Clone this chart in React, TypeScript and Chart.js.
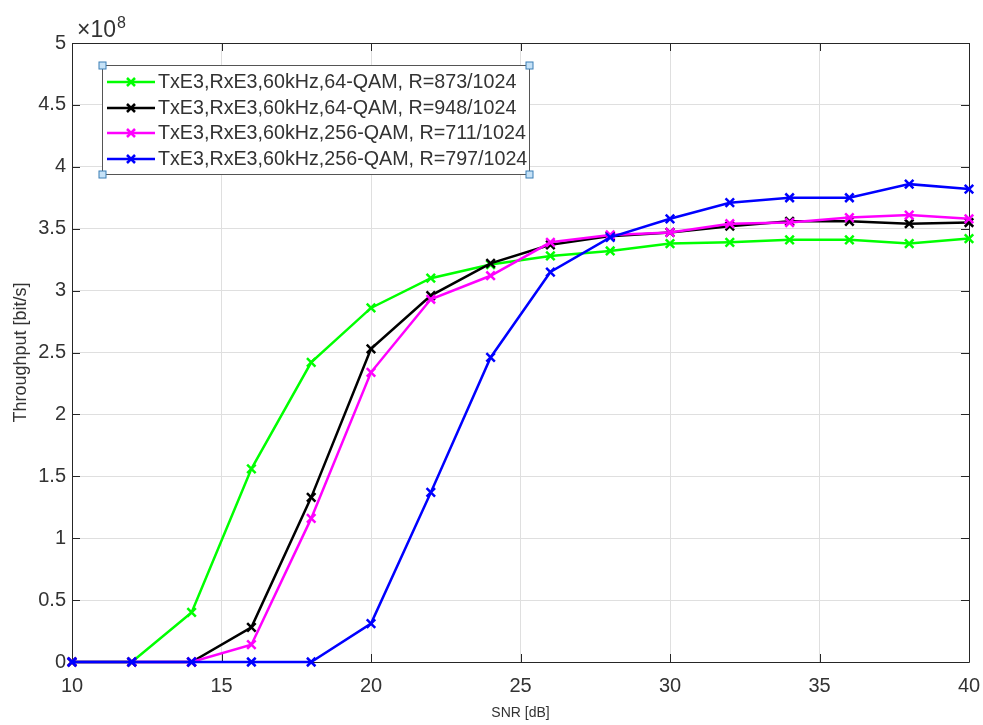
import React, { useEffect, useRef } from "react";
import { Chart, registerables } from "chart.js";

Chart.register(...registerables);

// ---- data (throughput in units of 1e8 bit/s) ----
const snrDb = [10, 12, 14, 16, 18, 20, 22, 24, 26, 28, 30, 32, 34, 36, 38, 40];
const qam64R873 = [0, 0, 0.40, 1.56, 2.42, 2.86, 3.10, 3.21, 3.28, 3.32, 3.38, 3.39, 3.41, 3.41, 3.38, 3.42];
const qam64R948 = [0, 0, 0, 0.28, 1.33, 2.53, 2.96, 3.22, 3.37, 3.44, 3.47, 3.52, 3.56, 3.56, 3.54, 3.55];
const qam256R711 = [0, 0, 0, 0.14, 1.16, 2.34, 2.93, 3.12, 3.39, 3.45, 3.47, 3.54, 3.55, 3.59, 3.61, 3.58];
const qam256R797 = [0, 0, 0, 0, 0, 0.31, 1.37, 2.46, 3.15, 3.43, 3.58, 3.71, 3.75, 3.75, 3.86, 3.82];

const seriesLabels = [
  "TxE3,RxE3,60kHz,64-QAM, R=873/1024",
  "TxE3,RxE3,60kHz,64-QAM, R=948/1024",
  "TxE3,RxE3,60kHz,256-QAM, R=711/1024",
  "TxE3,RxE3,60kHz,256-QAM, R=797/1024",
];
const seriesColors = ["#00ff00", "#000000", "#ff00ff", "#0000ff"];

const xTicks = [10, 15, 20, 25, 30, 35, 40];
const yTicks = [0, 0.5, 1, 1.5, 2, 2.5, 3, 3.5, 4, 4.5, 5];
const yExponent = "8";
const xTitle = "SNR [dB]";
const yTitle = "Throughput [bit/s]";

const FONT = "'Liberation Sans', Arial, Helvetica, sans-serif";
const TEXT = "#333333";

const framePlugin = {
  id: "matlabFrame",
  beforeDatasetsDraw(chart: any) {
    const { ctx, chartArea: a, scales } = chart;
    const tl = 8;
    ctx.save();
    ctx.strokeStyle = "#262626";
    ctx.lineWidth = 1;
    ctx.beginPath();
    ctx.rect(Math.round(a.left) + 0.5, Math.round(a.top) + 0.5, Math.round(a.right - a.left), Math.round(a.bottom - a.top));
    ctx.stroke();
    ctx.beginPath();
    for (const v of xTicks) {
      const px = Math.round(scales.x.getPixelForValue(v)) + 0.5;
      ctx.moveTo(px, a.bottom);
      ctx.lineTo(px, a.bottom - tl);
      ctx.moveTo(px, a.top);
      ctx.lineTo(px, a.top + tl);
    }
    for (const v of yTicks) {
      const py = Math.round(scales.y.getPixelForValue(v)) + 0.5;
      ctx.moveTo(a.left, py);
      ctx.lineTo(a.left + tl, py);
      ctx.moveTo(a.right, py);
      ctx.lineTo(a.right - tl, py);
    }
    ctx.stroke();
    // exponent label
    ctx.fillStyle = TEXT;
    ctx.textBaseline = "alphabetic";
    ctx.textAlign = "left";
    ctx.font = `23px ${FONT}`;
    const base = "\u00d710";
    ctx.fillText(base, a.left + 5, 37);
    const w = ctx.measureText(base).width;
    ctx.font = `16px ${FONT}`;
    ctx.fillText(yExponent, a.left + 6 + w, 28);
    ctx.restore();
  },
  afterDraw(chart: any) {
    const { ctx } = chart;
    const box = { l: 102, t: 65, r: 529, b: 174 };
    ctx.save();
    ctx.fillStyle = "#ffffff";
    ctx.fillRect(box.l, box.t, box.r - box.l, box.b - box.t);
    ctx.strokeStyle = "#555555";
    ctx.lineWidth = 1;
    ctx.strokeRect(box.l + 0.5, box.t + 0.5, box.r - box.l, box.b - box.t);
    const rowH = 25.6;
    const y0 = 82;
    chart.data.datasets.forEach((ds: any, i: number) => {
      const y = Math.round(y0 + i * rowH);
      ctx.strokeStyle = ds.borderColor;
      ctx.lineWidth = 2.5;
      ctx.beginPath();
      ctx.moveTo(107, y);
      ctx.lineTo(155, y);
      ctx.stroke();
      ctx.lineWidth = 2.5;
      const r = 4;
      ctx.beginPath();
      ctx.moveTo(131 - r, y - r);
      ctx.lineTo(131 + r, y + r);
      ctx.moveTo(131 - r, y + r);
      ctx.lineTo(131 + r, y - r);
      ctx.stroke();
      ctx.fillStyle = TEXT;
      ctx.font = `19.7px ${FONT}`;
      ctx.textAlign = "left";
      ctx.textBaseline = "middle";
      ctx.fillText(ds.label, 158, y + 1);
    });
    // selection handles
    const hs = 7;
    ctx.fillStyle = "#c6e2f7";
    ctx.strokeStyle = "#3b7fb6";
    ctx.lineWidth = 1;
    for (const [hx, hy] of [[box.l, box.t], [box.r, box.t], [box.l, box.b], [box.r, box.b]]) {
      ctx.fillRect(hx - hs / 2 + 0.5, hy - hs / 2 + 0.5, hs, hs);
      ctx.strokeRect(hx - hs / 2 + 0.5, hy - hs / 2 + 0.5, hs, hs);
    }
    ctx.restore();
  },
};

export default function App() {
  const ref = useRef<HTMLCanvasElement | null>(null);

  useEffect(() => {
    document.body.style.margin = "0";
    const canvas = ref.current;
    if (!canvas) return;
    const all = [qam64R873, qam64R948, qam256R711, qam256R797];
    const chart = new Chart(canvas, {
      type: "line",
      data: {
        datasets: all.map((arr, i) => ({
          label: seriesLabels[i],
          data: snrDb.map((x, j) => ({ x, y: arr[j] })),
          borderColor: seriesColors[i],
          backgroundColor: seriesColors[i],
          borderWidth: 2.5,
          pointStyle: "crossRot",
          pointRadius: 6,
          pointBorderWidth: 2.5,
          pointHoverRadius: 6,
          tension: 0,
          fill: false,
          clip: false,
          order: 4 - i,
        })),
      },
      options: {
        responsive: false,
        animation: false,
        devicePixelRatio: 1,
        layout: { padding: { left: 0, right: 14, top: 43, bottom: 0 } },
        plugins: {
          legend: { display: false },
          tooltip: { enabled: false },
          title: { display: false },
        },
        scales: {
          x: {
            type: "linear",
            min: 10,
            max: 40,
            afterBuildTicks: (s: any) => {
              s.ticks = xTicks.map((v) => ({ value: v }));
            },
            afterFit: (s: any) => {
              s.height = 63;
              s.paddingLeft = 0;
              s.paddingRight = 0;
            },
            grid: { color: "#dfdfdf", drawTicks: false, lineWidth: 1 },
            border: { display: false },
            ticks: {
              color: TEXT,
              font: { family: FONT, size: 20 },
              padding: 12,
              maxRotation: 0,
              autoSkip: false,
            },
            title: {
              display: true,
              text: xTitle,
              color: TEXT,
              font: { family: FONT, size: 14 },
              padding: { top: 0, bottom: 3 },
            },
          },
          y: {
            type: "linear",
            min: 0,
            max: 5,
            afterBuildTicks: (s: any) => {
              s.ticks = yTicks.map((v) => ({ value: v }));
            },
            afterFit: (s: any) => {
              s.width = 72;
            },
            grid: { color: "#dfdfdf", drawTicks: false, lineWidth: 1 },
            border: { display: false },
            ticks: {
              color: TEXT,
              font: { family: FONT, size: 20 },
              padding: 6,
              autoSkip: false,
              callback: (v: any) => String(v),
            },
            title: {
              display: true,
              text: yTitle,
              color: TEXT,
              font: { family: FONT, size: 18 },
              padding: { top: 10, bottom: 0 },
            },
          },
        },
      },
      plugins: [framePlugin],
    });
    return () => chart.destroy();
  }, []);

  return (
    <div style={{ position: "fixed", left: 0, top: 0, width: 983, height: 725, background: "#ffffff" }}>
      <canvas ref={ref} width={983} height={725} style={{ width: 983, height: 725, display: "block" }} />
    </div>
  );
}
